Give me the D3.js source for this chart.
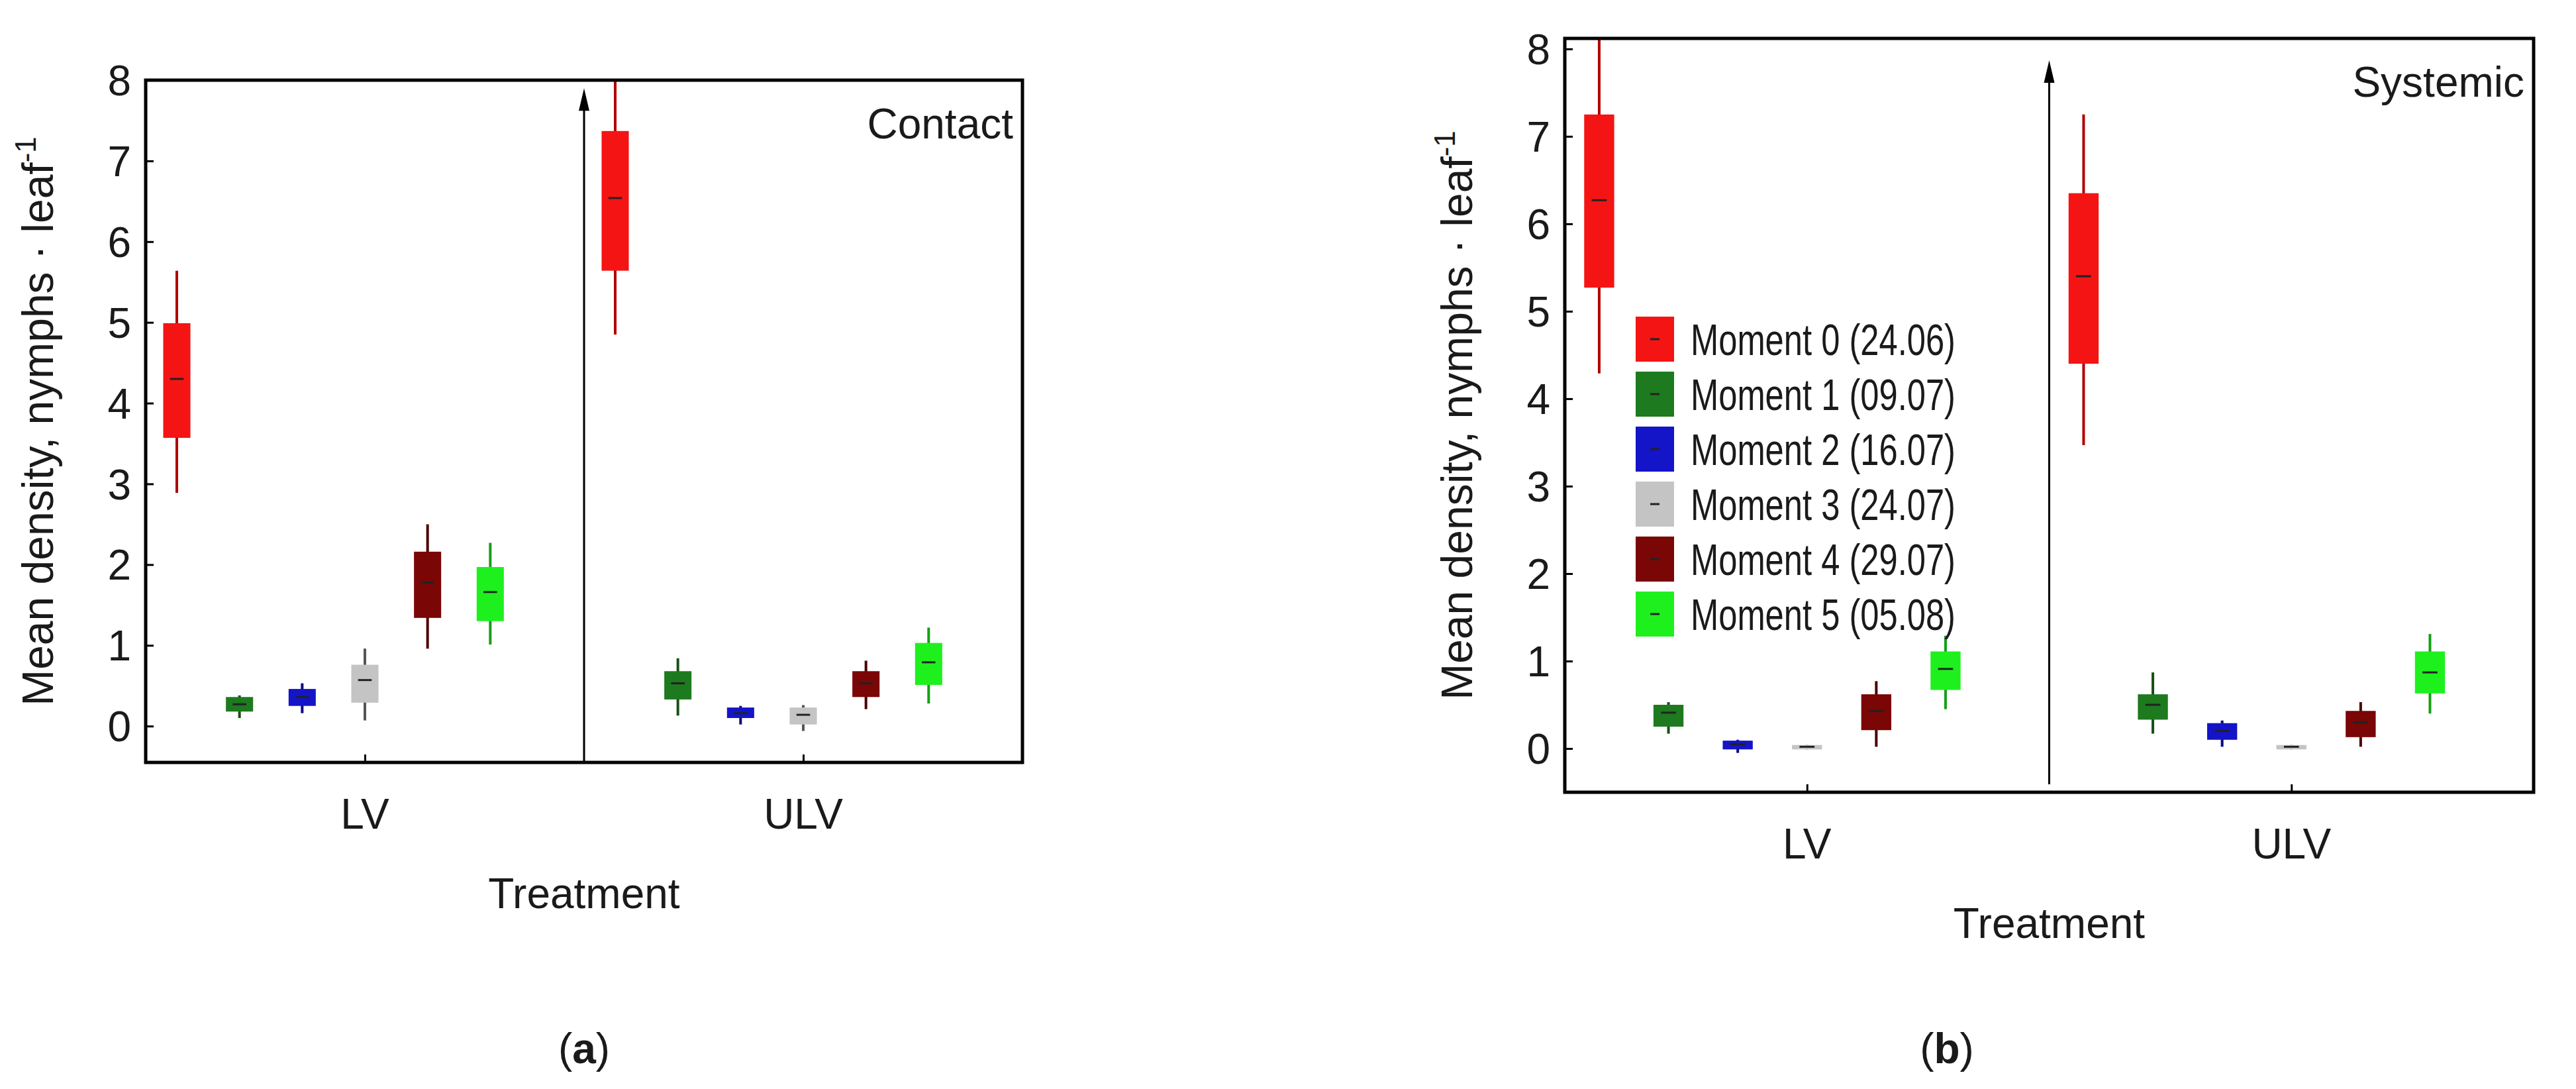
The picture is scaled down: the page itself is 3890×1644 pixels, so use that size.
<!DOCTYPE html>
<html>
<head>
<meta charset="utf-8">
<script src="https://cdnjs.cloudflare.com/ajax/libs/d3/7.8.5/d3.min.js"></script>
<style>
  body { margin: 0; background: #fff; }
  text { font-family: Arial, "Liberation Sans", sans-serif; fill: #1a1a1a; }
</style>
</head>
<body>
<div id="chart"></div>
<script>
// categories and series
const treatments = ['LV', 'ULV'];
const moments = ['Moment 0 (24.06)', 'Moment 1 (09.07)', 'Moment 2 (16.07)',
  'Moment 3 (24.07)', 'Moment 4 (29.07)', 'Moment 5 (05.08)'];
const yTicks = [0, 1, 2, 3, 4, 5, 6, 7, 8];

// [whisker low, box low, median, box high, whisker high] per moment, LV then ULV
const contactLV = [
  [2.89, 3.57, 4.30, 4.99, 5.64],
  [0.10, 0.18, 0.27, 0.36, 0.38],
  [0.16, 0.25, 0.36, 0.46, 0.53],
  [0.07, 0.29, 0.57, 0.76, 0.96],
  [0.96, 1.34, 1.78, 2.16, 2.50],
  [1.01, 1.30, 1.66, 1.97, 2.27],
];
const contactULV = [
  [4.85, 5.64, 6.54, 7.37, 8.40],
  [0.13, 0.33, 0.53, 0.68, 0.84],
  [0.02, 0.10, 0.16, 0.23, 0.25],
  [-0.06, 0.02, 0.14, 0.23, 0.26],
  [0.21, 0.36, 0.53, 0.68, 0.81],
  [0.28, 0.51, 0.79, 1.03, 1.22],
];
const systemicLV = [
  [4.29, 5.27, 6.27, 7.25, 8.40],
  [0.17, 0.25, 0.41, 0.50, 0.53],
  [-0.05, -0.01, 0.05, 0.09, 0.10],
  [-0.01, -0.01, 0.02, 0.04, 0.04],
  [0.02, 0.21, 0.43, 0.62, 0.77],
  [0.45, 0.67, 0.91, 1.11, 1.29],
];
const systemicULV = [
  [3.47, 4.40, 5.40, 6.35, 7.25],
  [0.17, 0.33, 0.50, 0.62, 0.87],
  [0.02, 0.10, 0.20, 0.29, 0.32],
  [-0.01, -0.01, 0.02, 0.04, 0.04],
  [0.02, 0.13, 0.30, 0.43, 0.53],
  [0.40, 0.63, 0.87, 1.11, 1.31],
];

const boxColors = ['#f41414', '#1e7a1e', '#1414c8', '#c4c4c4', '#7a0606', '#1ef01e'];
const whiskerColors = ['#b00000', '#145214', '#0a0a80', '#555555', '#4a0000', '#14a014'];

const svg = d3.select('#chart').append('svg')
  .attr('width', 3890)
  .attr('height', 1644);

function drawPanel(opts) {
  const { left, top, width, height, yDomain, lv, ulv, title, id } = opts;
  const g = svg.append('g').attr('transform', `translate(${left},${top})`);

  const x = d3.scalePoint().domain(treatments).range([0, width]).padding(0.5);
  const step = width * 0.0715;
  const offset = d3.scaleLinear().domain([0, 5]).range([-3 * step, 2 * step]);
  const y = d3.scaleLinear().domain(yDomain).range([height, 0]);
  const boxW = width * 0.031;

  g.append('clipPath').attr('id', id)
    .append('rect').attr('width', width).attr('height', height);

  const marks = g.append('g').attr('clip-path', `url(#${id})`);
  const rows = [];
  [lv, ulv].forEach((set, ti) => set.forEach((s, mi) => rows.push({ t: treatments[ti], m: mi, s })));

  const box = marks.selectAll('g.box').data(rows).enter().append('g')
    .attr('class', 'box')
    .attr('transform', (d) => `translate(${x(d.t) + offset(d.m)},0)`);
  box.append('line')
    .attr('y1', (d) => y(d.s[0])).attr('y2', (d) => y(d.s[4]))
    .attr('stroke', (d) => whiskerColors[d.m]).attr('stroke-width', 4);
  box.append('rect')
    .attr('x', -boxW / 2).attr('width', boxW)
    .attr('y', (d) => y(d.s[3]))
    .attr('height', (d) => Math.max(3, y(d.s[1]) - y(d.s[3])))
    .attr('fill', (d) => boxColors[d.m]);
  box.append('line')
    .attr('x1', -boxW / 4).attr('x2', boxW / 4)
    .attr('y1', (d) => y(d.s[2])).attr('y2', (d) => y(d.s[2]))
    .attr('stroke', '#222').attr('stroke-width', 3);

  // divider with arrow
  const mid = width / 2;
  g.append('line').attr('x1', mid).attr('x2', mid)
    .attr('y1', opts.dividerBottom).attr('y2', y(opts.arrowTop) + 14)
    .attr('stroke', '#000').attr('stroke-width', 3);
  g.append('path')
    .attr('d', `M${mid - 8},${y(opts.arrowTop) + 34} L${mid},${y(opts.arrowTop)} L${mid + 8},${y(opts.arrowTop) + 34} Z`)
    .attr('fill', '#000');

  // axes
  const yAxis = g.append('g').call(d3.axisRight(y).tickValues(yTicks).tickSize(12).tickFormat(''));
  yAxis.select('.domain').remove();
  yAxis.selectAll('line').attr('stroke', '#000').attr('stroke-width', 3);
  g.selectAll('text.ytick').data(yTicks).enter().append('text')
    .attr('class', 'ytick')
    .attr('x', -22).attr('y', (d) => y(d)).attr('dy', '0.36em')
    .attr('text-anchor', 'end').attr('font-size', 64)
    .text((d) => d);

  const xAxis = g.append('g').attr('transform', `translate(0,${height})`)
    .call(d3.axisTop(x).tickSize(12).tickFormat(''));
  xAxis.select('.domain').remove();
  xAxis.selectAll('line').attr('stroke', '#000').attr('stroke-width', 3);
  g.selectAll('text.xtick').data(treatments).enter().append('text')
    .attr('class', 'xtick')
    .attr('x', (d) => x(d)).attr('y', height + 100)
    .attr('text-anchor', 'middle').attr('font-size', 64)
    .text((d) => d);

  g.append('rect').attr('width', width).attr('height', height)
    .attr('fill', 'none').attr('stroke', '#000').attr('stroke-width', 5);

  g.append('text').attr('x', width - 14).attr('y', 88)
    .attr('text-anchor', 'end').attr('font-size', 64).text(title);

  g.append('text').attr('x', width / 2).attr('y', height + opts.xTitleDy)
    .attr('text-anchor', 'middle').attr('font-size', 64).text('Treatment');

  const yt = g.append('text')
    .attr('transform', `translate(${opts.yTitleX},${height / 2}) rotate(-90)`)
    .attr('text-anchor', 'middle').attr('font-size', 66);
  yt.append('tspan').text('Mean density, nymphs · leaf');
  yt.append('tspan').attr('dy', -26).attr('font-size', 44).text('-1');

  return { g, x, y };
}

drawPanel({
  id: 'clipA', left: 220, top: 121, width: 1324, height: 1030,
  yDomain: [-0.45, 8], lv: contactLV, ulv: contactULV, title: 'Contact',
  arrowTop: 7.9, dividerBottom: 1030, xTitleDy: 220, yTitleX: -140,
});

const pb = drawPanel({
  id: 'clipB', left: 2363, top: 58, width: 1463, height: 1138,
  yDomain: [-0.5, 8.12], lv: systemicLV, ulv: systemicULV, title: 'Systemic',
  arrowTop: 7.87, dividerBottom: 1126, xTitleDy: 220, yTitleX: -140,
});

// legend in panel b
const legend = pb.g.append('g').attr('transform', 'translate(107,420)');
const rowH = 83;
const item = legend.selectAll('g').data(moments).enter().append('g')
  .attr('transform', (d, i) => `translate(0,${i * rowH})`);
item.append('rect').attr('width', 58).attr('height', 68)
  .attr('fill', (d, i) => boxColors[i]);
item.append('line').attr('x1', 22).attr('x2', 36).attr('y1', 34).attr('y2', 34)
  .attr('stroke', '#222').attr('stroke-width', 3);
item.append('text').attr('x', 83).attr('y', 34).attr('dy', '0.36em')
  .attr('font-size', 66).attr('textLength', 400).attr('lengthAdjust', 'spacingAndGlyphs')
  .text((d) => d);

// panel labels
svg.append('text').attr('x', 882).attr('y', 1605).attr('text-anchor', 'middle')
  .attr('font-size', 64).attr('font-family', 'Liberation Serif, serif')
  .html('(<tspan font-weight="bold">a</tspan>)');
svg.append('text').attr('x', 2940).attr('y', 1605).attr('text-anchor', 'middle')
  .attr('font-size', 64).attr('font-family', 'Liberation Serif, serif')
  .html('(<tspan font-weight="bold">b</tspan>)');
</script>
</body>
</html>
